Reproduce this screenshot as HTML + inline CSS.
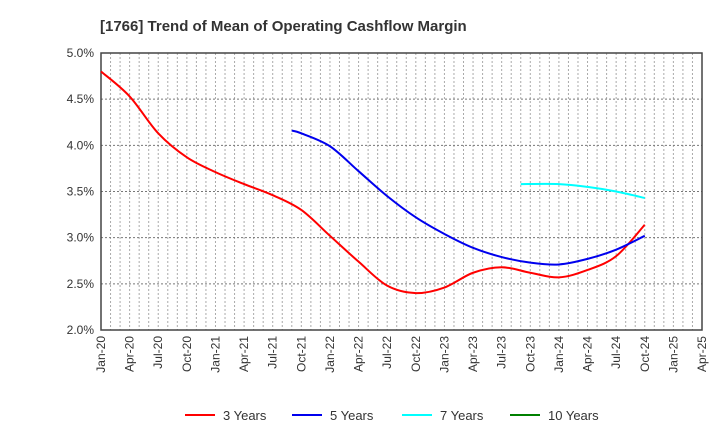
<!DOCTYPE html>
<html><head><meta charset="utf-8"><style>
body{margin:0;background:#fff;font-family:"Liberation Sans",sans-serif}
</style></head><body>
<svg id="c" width="720" height="440" xmlns="http://www.w3.org/2000/svg">
<text x="100" y="31" font-size="15" font-weight="bold" fill="#333">[1766]  Trend of Mean of Operating Cashflow Margin</text>
</svg>
<script>
const xLabels=["Jan-20","Apr-20","Jul-20","Oct-20","Jan-21","Apr-21","Jul-21","Oct-21","Jan-22","Apr-22","Jul-22","Oct-22","Jan-23","Apr-23","Jul-23","Oct-23","Jan-24","Apr-24","Jul-24","Oct-24","Jan-25","Apr-25"];
const yTicks=[2.0,2.5,3.0,3.5,4.0,4.5,5.0];
const m3=[0,3,6,9,12,15,18,21,24,27,30,33,36,39,42,45,48,51,54,57];
const v3=[4.80,4.53,4.13,3.87,3.71,3.58,3.46,3.30,3.02,2.74,2.48,2.40,2.46,2.62,2.68,2.62,2.57,2.65,2.80,3.14];
const m5=[20,21,24,27,30,33,36,39,42,45,48,51,54,57];
const v5=[4.16,4.13,3.99,3.72,3.45,3.22,3.04,2.89,2.79,2.73,2.71,2.77,2.87,3.02];
const m7=[44,48,51,54,57];
const v7=[3.58,3.58,3.55,3.50,3.43];
const m10=[];const v10=[];
const L=101,R=702,T=53,B=330;
const X=m=>L+(R-L)*m/63;
const Y=v=>B-(B-T)*(v-2)/3;
const svg=document.getElementById('c');
const NS="http://www.w3.org/2000/svg";
function mk(t,a){const e=document.createElementNS(NS,t);for(const k in a)e.setAttribute(k,a[k]);svg.appendChild(e);return e;}
for(let m=1;m<63;m++){const g=mk('line',{x1:X(m),x2:X(m),y1:T,y2:B,stroke:'#aaa','stroke-dasharray':'2,2','stroke-width':1});

}
yTicks.forEach(v=>{const g=mk('line',{x1:L,x2:R,y1:Y(v),y2:Y(v),stroke:'#777','stroke-dasharray':'2,2','stroke-width':1});


const t=mk('text',{x:L-7,y:Y(v)+4,'text-anchor':'end','font-size':12,fill:'#333'});t.textContent=v.toFixed(1)+'%';

});
xLabels.forEach((s,i)=>{const x=X(i*3);const t=mk('text',{x:0,y:0,'text-anchor':'end','font-size':12,fill:'#333',transform:`translate(${x+4},${B+6}) rotate(-90)`});t.textContent=s;

});
const fr=mk('rect',{x:L,y:T,width:R-L,height:B-T,fill:'none',stroke:'#444','stroke-width':1.5});


function path(ms,vs){const p=ms.map((m,i)=>[X(m),Y(vs[i])]);if(!p.length)return '';let d=`M${p[0][0]},${p[0][1]}`;
for(let i=0;i<p.length-1;i++){const p0=p[i-1]||p[i],p1=p[i],p2=p[i+1],p3=p[i+2]||p2;
d+=` C${p1[0]+(p2[0]-p0[0])/6},${p1[1]+(p2[1]-p0[1])/6} ${p2[0]-(p3[0]-p1[0])/6},${p2[1]-(p3[1]-p1[1])/6} ${p2[0]},${p2[1]}`;}return d;}
const series=[[m3,v3,'#ff0000','3 Years','series-3-years'],[m5,v5,'#0000ee','5 Years','series-5-years'],[m7,v7,'#00ffff','7 Years','series-7-years'],[m10,v10,'#008000','10 Years','series-10-years']];
const lx=[185,292,402,510];
series.forEach((s,i)=>{if(s[0].length){const p=mk('path',{d:path(s[0],s[1]),fill:'none',stroke:s[2],'stroke-width':2});

}
const l=mk('line',{x1:lx[i],x2:lx[i]+30,y1:415,y2:415,stroke:s[2],'stroke-width':2});


const t=mk('text',{x:lx[i]+38,y:420,'font-size':13,fill:'#333'});t.textContent=s[3];

});
</script>
</body></html>
